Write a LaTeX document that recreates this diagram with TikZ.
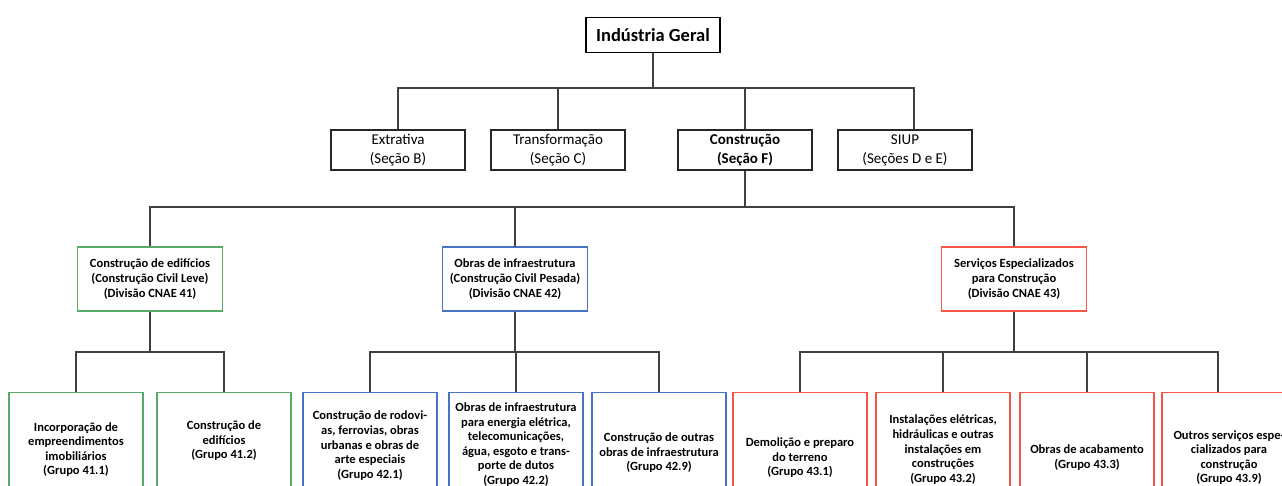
\documentclass[tikz,border=0pt]{standalone}
\usepackage{fontspec}
\setmainfont{Carlito}
\definecolor{leve}{RGB}{88,170,105}
\definecolor{pesada}{RGB}{72,114,196}
\definecolor{servicos}{RGB}{245,85,75}
\begin{document}
\begin{tikzpicture}[x=1pt, y=-1pt,
  link/.style = {draw=black!75, line width=1.1pt},
  box/.style = {draw, line width=1.2pt, fill=white, inner sep=0pt, align=center},
  top/.style = {box, draw=black, minimum width=134pt, minimum height=35pt, font=\fontsize{18.5}{22}\selectfont\bfseries},
  sec/.style = {box, draw=black!85, minimum width=134pt, minimum height=40pt, font=\fontsize{15}{19}\selectfont},
  div/.style = {box, minimum width=145pt, minimum height=64pt, font=\fontsize{12.5}{15}\selectfont\bfseries},
  grp/.style = {box, anchor=north, minimum width=134pt, font=\fontsize{12.5}{14.6}\selectfont\bfseries}]
  \useasboundingbox (0,0) rectangle (1282,486);
  \node[top] (geral) at (653,35) {Indústria Geral};
  \node[sec] (extrativa) at (398,150) {Extrativa\\(Seção B)};
  \node[sec] (transf) at (558,150) {Transformação\\(Seção C)};
  \node[sec, font=\fontsize{15}{19}\selectfont\bfseries] (constr) at (745,150) {Construção\\(Seção F)};
  \node[sec] (siup) at (905,150) {SIUP\\(Seções D e E)};
  \node[div, draw=leve] (leve) at (150,279) {Construção de edifícios\\(Construção Civil Leve)\\(Divisão CNAE 41)};
  \node[div, draw=pesada] (pesada) at (515,279) {Obras de infraestrutura\\(Construção Civil Pesada)\\(Divisão CNAE 42)};
  \node[div, draw=servicos] (servicos) at (1014,279) {Serviços Especializados\\para Construção\\(Divisão CNAE 43)};
  \node[grp, draw=leve, minimum height=114pt] (g411) at (76,392) {Incorporação de\\empreendimentos\\imobiliários\\(Grupo 41.1)};
  \node[grp, draw=leve, minimum height=96pt] (g412) at (224,392) {Construção de\\edifícios\\(Grupo 41.2)};
  \node[grp, draw=pesada, minimum height=106pt] (g421) at (370,392) {Construção de rodovi-\\as, ferrovias, obras\\urbanas e obras de\\arte especiais\\(Grupo 42.1)};
  \node[grp, draw=pesada, minimum height=104pt] (g422) at (516,392) {Obras de infraestrutura\\para energia elétrica,\\telecomunicações,\\água, esgoto e trans-\\porte de dutos\\(Grupo 42.2)};
  \node[grp, draw=pesada, minimum height=120pt] (g429) at (659,392) {Construção de outras\\obras de infraestrutura\\(Grupo 42.9)};
  \node[grp, draw=servicos, minimum height=130pt] (g431) at (800,392) {Demolição e preparo\\do terreno\\(Grupo 43.1)};
  \node[grp, draw=servicos, minimum height=114pt] (g432) at (943,392) {Instalações elétricas,\\hidráulicas e outras\\instalações em\\construções\\(Grupo 43.2)};
  \node[grp, draw=servicos, minimum height=130pt] (g433) at (1087,392) {Obras de acabamento\\(Grupo 43.3)};
  \node[grp, draw=servicos, minimum height=130pt] (g439) at (1229,392) {Outros serviços espe-\\cializados para\\construção\\(Grupo 43.9)};
  \coordinate (b1) at (653,88);
  \coordinate (b2) at (745,207);
  \coordinate (b3) at (150,352);
  \coordinate (b4) at (515,352);
  \coordinate (b5) at (1014,352);
  \draw[link] (geral) -- (b1);
  \draw[link] (extrativa) |- (b1);
  \draw[link] (transf) |- (b1);
  \draw[link] (constr) |- (b1);
  \draw[link] ([xshift=9pt]siup.north) |- (b1);
  \draw[link] (constr) -- (b2);
  \draw[link] (leve) |- (b2);
  \draw[link] (pesada) |- (b2);
  \draw[link] (servicos) |- (b2);
  \draw[link] (leve) -- (b3);
  \draw[link] (g411) |- (b3);
  \draw[link] (g412) |- (b3);
  \draw[link] (pesada) -- (b4);
  \draw[link] (g421) |- (b4);
  \draw[link] (g422) |- (b4);
  \draw[link] (g429) |- (b4);
  \draw[link] (servicos) -- (b5);
  \draw[link] (g431) |- (b5);
  \draw[link] (g432) |- (b5);
  \draw[link] (g433) |- (b5);
  \draw[link] ([xshift=-11pt]g439.north) |- (b5);
\end{tikzpicture}
\end{document}
